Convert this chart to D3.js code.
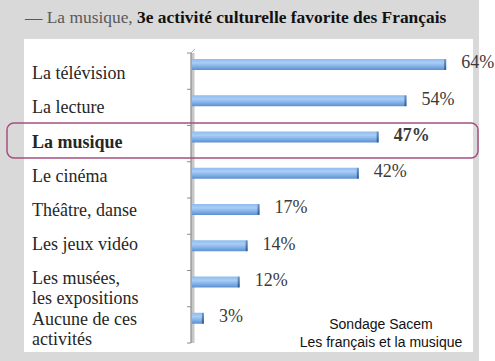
<!DOCTYPE html>
<html><head><meta charset="utf-8">
<script src="https://cdn.jsdelivr.net/npm/d3@7"></script>
<style>body{margin:0;background:#fff;}svg{display:block;}</style>
</head><body>
<script>
const categories = ["La télévision","La lecture","La musique","Le cinéma","Théâtre, danse","Les jeux vidéo","Les musées,|les expositions","Aucune de ces|activités"];
const values = [64,54,47,42,17,14,12,3];
const valueLabels = ["64%","54%","47%","42%","17%","14%","12%","3%"];
const highlighted = "La musique";
const titleLight = "— La musique, ";
const titleBold = "3e activité culturelle favorite des Français";
const sourceLines = ["Sondage Sacem","Les français et la musique"];

const W = 495, H = 361;
const svg = d3.select("body").append("svg").attr("width", W).attr("height", H);

const defs = svg.append("defs");
const g1 = defs.append("linearGradient").attr("id","barGrad").attr("x1",0).attr("y1",0).attr("x2",0).attr("y2",1);
g1.append("stop").attr("offset","0%").attr("stop-color","#8fbcee");
g1.append("stop").attr("offset","35%").attr("stop-color","#a9cdf5");
g1.append("stop").attr("offset","70%").attr("stop-color","#7eaee6");
g1.append("stop").attr("offset","100%").attr("stop-color","#5d8fcf");
const g2 = defs.append("linearGradient").attr("id","capGrad").attr("x1",0).attr("y1",0).attr("x2",0).attr("y2",1);
g2.append("stop").attr("offset","0%").attr("stop-color","#6f99c9");
g2.append("stop").attr("offset","100%").attr("stop-color","#2f5a8c");

// backgrounds
svg.append("rect").attr("x",0).attr("y",0).attr("width",479).attr("height",H).attr("fill","#d9d9d9");
svg.append("rect").attr("x",24).attr("y",39).attr("width",449).attr("height",313).attr("fill","#ffffff");

// title
const t = svg.append("text").attr("x",25).attr("y",23)
  .attr("font-family","'Liberation Serif', serif").attr("font-size",17.4);
t.append("tspan").attr("fill","#595959").text(titleLight);
t.append("tspan").attr("fill","#111").attr("font-weight","bold").text(titleBold);

const x = d3.scaleLinear().domain([0,70]).range([192,470]);
const y = d3.scaleBand().domain(categories).range([53,343]);
const yLab = d3.scaleBand().domain(categories).range([56,329]);

// axis wall
const axisG = svg.append("g");
axisG.append("rect").attr("x",x(0)-1).attr("y",y.range()[0]).attr("width",3.5).attr("height",y.range()[1]-y.range()[0]).attr("fill","#c8c8c8");
axisG.append("line").attr("x1",x(0)-1).attr("x2",x(0)-1).attr("y1",y.range()[0]).attr("y2",y.range()[1]).attr("stroke","#8c8c8c").attr("stroke-width",1.2);
axisG.append("line").attr("x1",x(0)-1).attr("x2",x(0)+3).attr("y1",y.range()[0]).attr("y2",y.range()[0]-4).attr("stroke","#b0b0b0").attr("stroke-width",1);
const tickYs = categories.map(c => y(c)).concat([y.range()[1]]);
axisG.selectAll("line.tick").data(tickYs).join("line").attr("class","tick")
  .attr("x1",x(0)-5).attr("x2",x(0)-1).attr("y1",d=>d).attr("y2",d=>d)
  .attr("stroke","#8c8c8c").attr("stroke-width",1);

// bars
const data = categories.map((c,i)=>({c, v: values[i], label: valueLabels[i]}));
const barH = 11, barOff = 6;
svg.selectAll("rect.bar").data(data).join("rect").attr("class","bar")
  .attr("x",x(0)).attr("y",d=>y(d.c)+barOff).attr("width",d=>x(d.v)-x(0)).attr("height",barH)
  .attr("fill","url(#barGrad)");
svg.selectAll("rect.cap").data(data).join("rect").attr("class","cap")
  .attr("x",d=>x(d.v)-2).attr("y",d=>y(d.c)+barOff).attr("width",2).attr("height",barH).attr("rx",1)
  .attr("fill","url(#capGrad)");

// value labels
svg.selectAll("text.val").data(data).join("text").attr("class","val")
  .attr("x",d=>x(d.v)+15).attr("y",d=>y(d.c)+barOff+barH/2).attr("dy","0.22em")
  .attr("font-family","'Liberation Serif', serif").attr("font-size",18)
  .attr("font-weight",d=>d.c===highlighted?"bold":"normal")
  .attr("fill","#3b3b3b").text(d=>d.label);

// category labels (wrapped labels push the following ones down)
let push = 0;
data.forEach(d => { d.push = push; if (d.c.includes("|")) push += 7; });
const labs = svg.selectAll("text.cat").data(data).join("text").attr("class","cat")
  .attr("x",32).attr("y",d=>yLab(d.c)+yLab.bandwidth()/2+d.push)
  .attr("font-family","'Liberation Serif', serif").attr("font-size",18)
  .attr("font-weight",d=>d.c===highlighted?"bold":"normal")
  .attr("fill","#262626");
labs.each(function(d){
  const parts = d.c.split("|");
  d3.select(this).selectAll("tspan").data(parts).join("tspan")
    .attr("x",32).attr("dy",(p,i)=> i===0 ? "0.35em" : "1.08em").text(p=>p);
});

// highlight frame
svg.append("rect").attr("x",7).attr("y",y(highlighted)-2.5).attr("width",471).attr("height",35)
  .attr("rx",7).attr("fill","none").attr("stroke","#a84f80").attr("stroke-width",1.5);

// source
svg.append("text").attr("x",381).attr("y",324).attr("text-anchor","middle")
  .attr("font-family","'Liberation Sans', Arial, sans-serif").attr("font-size",14).attr("fill","#111")
  .selectAll("tspan").data(sourceLines).join("tspan").attr("x",381).attr("dy",(d,i)=>i===0?"0.35em":"1.3em").text(d=>d);
</script>
</body></html>
